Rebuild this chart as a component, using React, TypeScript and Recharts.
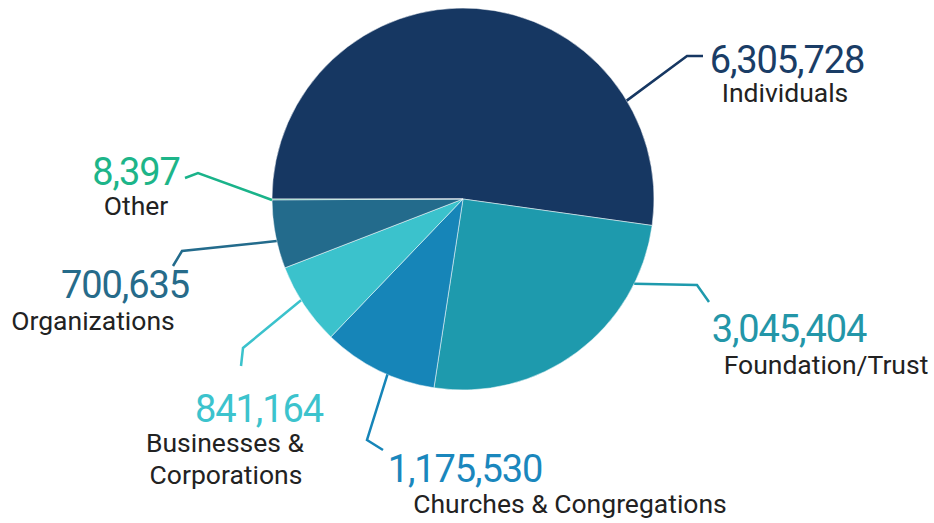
import React from 'react';
import { PieChart, Pie, Cell } from 'recharts';

const categories = ['Individuals', 'Foundation/Trust', 'Churches & Congregations', 'Businesses & Corporations', 'Organizations', 'Other'];
const amounts = [6305728, 3045404, 1175530, 841164, 700635, 8397];
const sliceColors = ['#163762', '#1e9aad', '#1685b8', '#3bc2cc', '#236b8c', '#1ab38a'];
const numberColors = ['#1a3d66', '#2396a8', '#1a87bd', '#3cc3cd', '#266b8a', '#1db589'];

// label layout, relative to pie centre: leader start angle, elbow, end, text spots
const labelLayout = [
  { angle: 31, elbow: [224, -143], end: [240, -143], num: [324, -126], lines: [{ text: 'Individuals', x: 322, y: -97 }] },
  { angle: -26.3, elbow: [234, 86], end: [246, 103], num: [326, 143], lines: [{ text: 'Foundation/Trust', x: 363, y: 175 }] },
  { angle: -113.3, elbow: [-96, 241], end: [-80, 251], num: [2, 283], lines: [{ text: 'Churches & Congregations', x: 107, y: 314 }] },
  { angle: -148, elbow: [-220, 149], end: [-222, 167], num: [-204, 223], lines: [{ text: 'Businesses &', x: -238, y: 253 }, { text: 'Corporations', x: -237, y: 285 }] },
  { angle: 192.7, elbow: [-281, 52], end: [-290, 67], num: [-338, 99], lines: [{ text: 'Organizations', x: -370, y: 131 }] },
  { angle: 180.3, elbow: [-265, -26], end: [-278, -21], num: [-327, -14], lines: [{ text: 'Other', x: -327, y: 16 }] },
];

const data = categories.map((name, i) => ({ name, value: amounts[i] }));

const fmt = (v: number) => v.toLocaleString('en-US');

const renderLabel = (props: any) => {
  const { cx, cy, outerRadius, index } = props;
  const l = labelLayout[index];
  const rad = (l.angle * Math.PI) / 180;
  const sx = cx + outerRadius * Math.cos(rad);
  const sy = cy - outerRadius * Math.sin(rad);
  const pts = `${sx},${sy} ${cx + l.elbow[0]},${cy + l.elbow[1]} ${cx + l.end[0]},${cy + l.end[1]}`;
  return (
    <g key={`lbl-${index}`}>
      <polyline points={pts} fill="none" stroke={sliceColors[index]} strokeWidth={2.5} />
      <text
        x={cx + l.num[0]}
        y={cy + l.num[1]}
        textAnchor="middle"
        fill={numberColors[index]}
        fontFamily="Roboto, sans-serif"
        fontSize={38}
        letterSpacing={-1.1}
      >
        {fmt(amounts[index])}
      </text>
      {l.lines.map((ln) => (
        <text
          key={ln.text}
          x={cx + ln.x}
          y={cy + ln.y}
          textAnchor="middle"
          fill="#222222"
          fontFamily="Roboto, sans-serif"
          fontSize={26.5}
        >
          {ln.text}
        </text>
      ))}
    </g>
  );
};

export default function App() {
  return (
    <div style={{ width: 934, height: 523, background: '#ffffff' }}>
      <style>{'body{margin:0}'}</style>
      <PieChart width={934} height={523} margin={{ top: 0, right: 0, bottom: 0, left: 0 }}>
        <Pie
          data={data}
          dataKey="value"
          nameKey="name"
          cx={463}
          cy={199}
          outerRadius={191}
          startAngle={180}
          endAngle={-180}
          stroke="#ffffff"
          strokeWidth={0.5}
          label={renderLabel}
          labelLine={false}
          isAnimationActive={false}
        >
          {data.map((d, i) => (
            <Cell key={d.name} fill={sliceColors[i]} />
          ))}
        </Pie>
      </PieChart>
    </div>
  );
}
